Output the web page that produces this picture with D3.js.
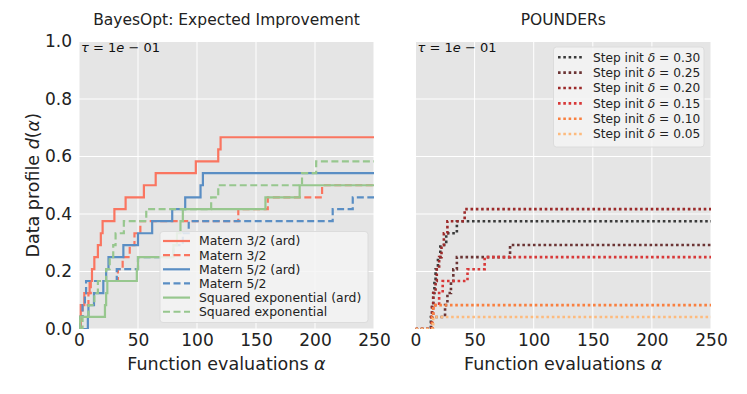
<!DOCTYPE html>
<html>
<head>
<meta charset="utf-8">
<script src="https://cdnjs.cloudflare.com/ajax/libs/d3/7.8.5/d3.min.js"></script>
<style>
  body { margin: 0; background: #fff; }
  text { font-family: "DejaVu Sans", sans-serif; }
</style>
</head>
<body>
<svg id="chart" width="747" height="394"></svg>
<script>
// data profile values d(alpha) (24 problems)
const xTicks = [0, 50, 100, 150, 200, 250]
const yTicks = [0, 0.2, 0.4, 0.6, 0.8, 1.0]

const bayesLabels = ['Matern 3/2 (ard)', 'Matern 3/2', 'Matern 5/2 (ard)', 'Matern 5/2',
  'Squared exponential (ard)', 'Squared exponential']
const matern32ArdX = [0, 1.5, 4.5, 9, 11, 13, 16, 18.5, 20, 30, 39.5, 55, 65, 99, 118, 120]
const matern32ArdY = [0, .083, .125, .167, .208, .25, .292, .333, .375, .417, .458, .5, .542, .583, .625, .667]
const matern32X = [0, 1, 3, 8, 10, 33, 37, 43, 47, 52, 135, 160, 206]
const matern32Y = [0, .042, .083, .125, .167, .208, .25, .292, .333, .375, .417, .458, .5]
const matern52ArdX = [0, 7.5, 8, 12.7, 20.6, 23, 25, 37.6, 50, 62, 79, 90, 103, 105]
const matern52ArdY = [0, .042, .083, .125, .167, .208, .25, .292, .333, .375, .417, .458, .5, .542]
const matern52X = [0, 1, 3, 5, 6, 32, 50, 80, 88, 93, 215, 232]
const matern52Y = [0, .042, .083, .125, .167, .208, .25, .292, .333, .375, .417, .458]
const sqExpArdX = [0, 1, 22, 23, 24, 49, 50, 80, 83, 86, 88, 158, 187]
const sqExpArdY = [0, .042, .083, .125, .167, .208, .25, .292, .333, .375, .417, .458, .5]
const sqExpX = [0, 3, 8, 13, 16, 23, 26, 29, 31, 38, 57, 112, 118, 189, 201]
const sqExpY = [0, .042, .083, .125, .167, .208, .25, .292, .333, .375, .417, .458, .5, .542, .583]

const stepInits = ['0.30', '0.25', '0.20', '0.15', '0.10', '0.05']
const step30X = [0, 13, 14, 15, 16, 17, 19, 21, 26, 35]
const step30Y = [0, .042, .083, .125, .167, .208, .25, .292, .333, .375]
const step25X = [0, 14, 25, 27, 30, 32, 35, 80]
const step25Y = [0, .042, .083, .125, .167, .208, .25, .292]
const step20X = [0, 13.5, 14, 15, 17, 18, 20, 22, 24, 27, 41.6]
const step20Y = [0, .042, .083, .125, .167, .208, .25, .292, .333, .375, .417]
const step15X = [0, 14, 15, 20, 23, 44, 58.5]
const step15Y = [0, .042, .083, .125, .167, .208, .25]
const step10X = [0, 14, 15]
const step10Y = [0, .042, .083]
const step05X = [0, 15]
const step05Y = [0, .042]

const svg = d3.select('#chart')
const plotTop = 41.5, plotBottom = 329
const panels = [
  { left: 79, right: 374, title: 'BayesOpt: Expected Improvement', yLabels: true },
  { left: 415.5, right: 711, title: 'POUNDERs', yLabels: false }
]
const y = d3.scaleLinear().domain([0, 1]).range([plotBottom, plotTop])

const bayesSeries = [
  { name: bayesLabels[0], xs: matern32ArdX, ys: matern32ArdY, color: '#fa7560', dash: null },
  { name: bayesLabels[1], xs: matern32X, ys: matern32Y, color: '#fa7560', dash: '7,3.5' },
  { name: bayesLabels[2], xs: matern52ArdX, ys: matern52ArdY, color: '#5a8ec4', dash: null },
  { name: bayesLabels[3], xs: matern52X, ys: matern52Y, color: '#5a8ec4', dash: '7,3.5' },
  { name: bayesLabels[4], xs: sqExpArdX, ys: sqExpArdY, color: '#97c78e', dash: null },
  { name: bayesLabels[5], xs: sqExpX, ys: sqExpY, color: '#97c78e', dash: '7,3.5' }
]
const stepColors = ['#3a3a3a', '#6b3434', '#9c2a2a', '#d83838', '#f98040', '#fdbb7e']
const stepSeries = [
  [step30X, step30Y], [step25X, step25Y], [step20X, step20Y],
  [step15X, step15Y], [step10X, step10Y], [step05X, step05Y]
].map((s, i) => ({ name: stepInits[i], xs: s[0], ys: s[1], color: stepColors[i], dash: '2.6,2.7' }))

panels.forEach((p, pi) => {
  const x = d3.scaleLinear().domain([0, 250]).range([p.left, p.right])
  const g = svg.append('g')
  g.append('rect')
    .attr('x', p.left).attr('y', plotTop)
    .attr('width', p.right - p.left).attr('height', plotBottom - plotTop)
    .attr('fill', '#e5e5e5')
  // grid
  g.selectAll('line.vg').data(xTicks).enter().append('line')
    .attr('x1', d => x(d)).attr('x2', d => x(d))
    .attr('y1', plotTop).attr('y2', plotBottom)
    .attr('stroke', '#fff').attr('stroke-width', 1)
  g.selectAll('line.hg').data(yTicks).enter().append('line')
    .attr('x1', p.left).attr('x2', p.right)
    .attr('y1', d => y(d)).attr('y2', d => y(d))
    .attr('stroke', '#fff').attr('stroke-width', 1)

  const xAxis = g.append('g')
    .attr('transform', `translate(0,${plotBottom})`)
    .call(d3.axisBottom(x).tickValues(xTicks).tickSize(0).tickPadding(5).tickFormat(d3.format('d')))
  xAxis.select('.domain').remove()
  xAxis.selectAll('text').attr('font-size', 17).attr('fill', '#222')
    .style('font-family', '"DejaVu Sans", sans-serif')

  if (p.yLabels) {
    const yAxis = g.append('g')
      .attr('transform', `translate(${p.left},0)`)
      .call(d3.axisLeft(y).tickValues(yTicks).tickSize(0).tickPadding(7).tickFormat(d3.format('.1f')))
    yAxis.select('.domain').remove()
    yAxis.selectAll('text').attr('font-size', 17).attr('fill', '#222')
      .style('font-family', '"DejaVu Sans", sans-serif')
    const yl = g.append('text')
      .attr('transform', `translate(39,${(plotTop + plotBottom) / 2}) rotate(-90)`)
      .attr('text-anchor', 'middle').attr('font-size', 17.5).attr('fill', '#222')
    yl.append('tspan').text('Data profile ')
    yl.append('tspan').attr('font-style', 'italic').text('d')
    yl.append('tspan').text('(')
    yl.append('tspan').attr('font-style', 'italic').text('α')
    yl.append('tspan').text(')')
  }

  const xl = g.append('text')
    .attr('x', (p.left + p.right) / 2).attr('y', 370)
    .attr('text-anchor', 'middle').attr('font-size', 17.5).attr('fill', '#222')
  xl.append('tspan').text('Function evaluations ')
  xl.append('tspan').attr('font-style', 'italic').text('α')

  g.append('text')
    .attr('x', (p.left + p.right) / 2).attr('y', 25)
    .attr('text-anchor', 'middle').attr('font-size', 15.5).attr('fill', '#222')
    .text(p.title)

  // lines
  svg.append('clipPath').attr('id', 'clip' + pi).append('rect')
    .attr('x', p.left).attr('y', plotTop).attr('width', p.right - p.left).attr('height', plotBottom - plotTop)
  const line = d3.line().curve(d3.curveStepAfter).x(d => x(d[0])).y(d => y(d[1]))
  const series = pi === 0 ? bayesSeries : stepSeries
  const lg = g.append('g').attr('clip-path', `url(#clip${pi})`)
  series.forEach(s => {
    const pts = s.xs.map((v, i) => [v, s.ys[i]])
    pts.push([250, s.ys[s.ys.length - 1]])
    lg.append('path').datum(pts)
      .attr('d', line)
      .attr('fill', 'none')
      .attr('stroke', s.color)
      .attr('stroke-width', pi === 0 ? 2.2 : 2.6)
      .attr('stroke-dasharray', s.dash)
  })

  const tau = g.append('text').attr('x', p.left + 2).attr('y', 52)
    .attr('font-size', 13).attr('fill', '#111')
  tau.append('tspan').attr('font-style', 'italic').text('τ')
  tau.append('tspan').text(' = 1')
  tau.append('tspan').attr('font-style', 'italic').text('e')
  tau.append('tspan').text(' − 01')

  // legend
  if (pi === 0) {
    const leg = g.append('g')
    leg.append('rect').attr('x', 160).attr('y', 231.5).attr('width', 208).attr('height', 91)
      .attr('rx', 3).attr('fill', '#f4f4f4').attr('fill-opacity', 0.85).attr('stroke', '#dcdcdc')
    series.forEach((s, i) => {
      const ry = 241 + i * 14.15
      leg.append('line').attr('x1', 163).attr('x2', 190).attr('y1', ry).attr('y2', ry)
        .attr('stroke', s.color).attr('stroke-width', 2.2).attr('stroke-dasharray', s.dash)
      leg.append('text').attr('x', 199).attr('y', ry + 4.4)
        .attr('font-size', 12.4).attr('fill', '#222').text(s.name)
    })
  } else {
    const leg = g.append('g')
    leg.append('rect').attr('x', 553.5).attr('y', 47).attr('width', 150.5).attr('height', 100)
      .attr('rx', 3).attr('fill', '#f4f4f4').attr('fill-opacity', 0.85).attr('stroke', '#dcdcdc')
    series.forEach((s, i) => {
      const ry = 57.3 + i * 15.35
      leg.append('line').attr('x1', 558).attr('x2', 582).attr('y1', ry).attr('y2', ry)
        .attr('stroke', s.color).attr('stroke-width', 2.6).attr('stroke-dasharray', s.dash)
      const t = leg.append('text').attr('x', 593).attr('y', ry + 4.3)
        .attr('font-size', 12.2).attr('fill', '#222')
      t.append('tspan').text('Step init ')
      t.append('tspan').attr('font-style', 'italic').text('δ')
      t.append('tspan').text(' = ' + s.name)
    })
  }
})
</script>
</body>
</html>
